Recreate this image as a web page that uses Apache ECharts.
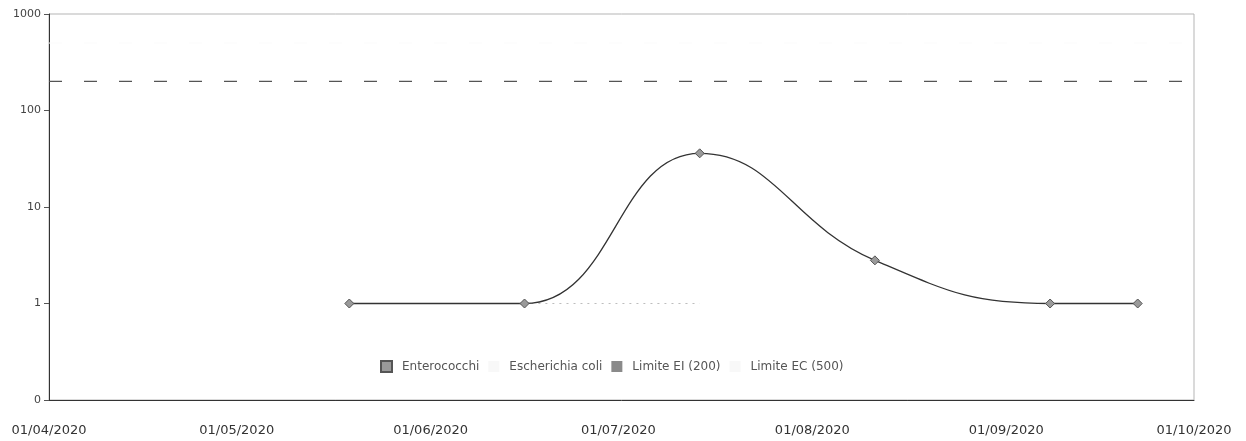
<!DOCTYPE html>
<html>
<head>
<meta charset="utf-8">
<script src="https://cdn.jsdelivr.net/npm/echarts@6/dist/echarts.min.js"></script>
<style>
html,body{margin:0;padding:0;background:#fff;}
#chart{width:1246px;height:441px;}
</style>
</head>
<body>
<div id="chart"></div>
<script>
// ---- data ----
const xRange = ['2020-04-01', '2020-10-01'];
const sampleDates = ['2020-05-19', '2020-06-16', '2020-07-14', '2020-08-11', '2020-09-08', '2020-09-22'];
const enterococchi = [1, 1, 36, 2.8, 1, 1];
const ecoliDates = ['2020-05-19', '2020-06-16', '2020-07-14'];
const ecoli = [1, 1, 1];
const limiteEI = 200;
const limiteEC = 500;
const yTickValues = [0.1, 1, 10, 100, 1000];
const yTickLabels = ['0', '1', '10', '100', '1000'];
const seriesNames = ['Enterococchi', 'Escherichia coli', 'Limite EI (200)', 'Limite EC (500)'];

const chart = echarts.init(document.getElementById('chart'));
const font = 'DejaVu Sans';

const option = {
  animation: false,
  backgroundColor: '#fff',
  grid: {
    left: 49, right: 52, top: 14, bottom: 41,
    show: true, borderColor: '#b5b5b5', borderWidth: 1
  },
  legend: {
    left: 375, top: 355,
    icon: 'rect', itemWidth: 11, itemHeight: 11, itemGap: 9,
    textStyle: { fontFamily: font, fontSize: 12, color: '#555', padding: [0, 0, 0, 5] },
    data: seriesNames
  },
  xAxis: {
    type: 'time',
    min: xRange[0], max: xRange[1],
    splitNumber: 6,
    axisLine: { show: true, lineStyle: { color: '#333', width: 1 } },
    axisTick: { show: false },
    splitLine: { show: false },
    axisLabel: {
      formatter: '{dd}/{MM}/{yyyy}',
      fontFamily: font, fontSize: 13, color: '#333', margin: 24,
      showMinLabel: true, showMaxLabel: true, hideOverlap: false
    }
  },
  yAxis: {
    type: 'log', logBase: 10, min: 0.1, max: 1000,
    axisLine: { show: true, lineStyle: { color: '#333', width: 1 } },
    axisTick: { show: true, length: 5, lineStyle: { color: '#555' } },
    splitLine: { show: false },
    minorTick: { show: false },
    axisLabel: {
      fontFamily: font, fontSize: 11, color: '#444', margin: 8,
      formatter: function (v) {
        for (let i = 0; i < yTickValues.length; i++) {
          if (Math.abs(v - yTickValues[i]) < 1e-9 * Math.max(1, v)) return yTickLabels[i];
        }
        return '';
      }
    }
  },
  series: [
    {
      name: seriesNames[0], type: 'line',
      data: sampleDates.map((d, i) => [d, enterococchi[i]]),
      smooth: 0.45,
      symbol: 'diamond', symbolSize: 9,
      itemStyle: { color: '#9a9a9a', borderColor: '#555', borderWidth: 1 },
      lineStyle: { color: '#333', width: 1.3 },
      z: 5
    },
    {
      name: seriesNames[1], type: 'line',
      data: ecoliDates.map((d, i) => [d, ecoli[i]]),
      smooth: 0.5,
      symbol: 'none',
      itemStyle: { color: '#f8f8f8' },
      lineStyle: { color: '#bdbdbd', width: 1, type: [2, 5] },
      z: 3
    },
    {
      name: seriesNames[2], type: 'line',
      data: xRange.map(d => [d, limiteEI]),
      symbol: 'none',
      itemStyle: { color: '#8a8a8a' },
      lineStyle: { color: '#555', width: 1.3, type: [13, 22] },
      z: 4
    },
    {
      name: seriesNames[3], type: 'line',
      data: xRange.map(d => [d, limiteEC]),
      symbol: 'none',
      itemStyle: { color: '#f8f8f8' },
      lineStyle: { color: '#fbfbfb', width: 1, type: [13, 22] },
      z: 2
    }
  ]
};
chart.setOption(option);
</script>
</body>
</html>
